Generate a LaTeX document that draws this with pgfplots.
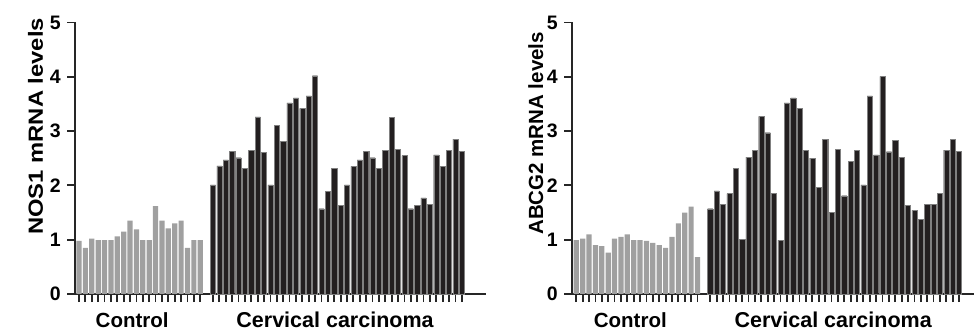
\documentclass[border=0pt]{standalone}
\usepackage{fontspec}
\setmainfont{Liberation Sans}
\usepackage{pgfplots}
\pgfplotsset{compat=1.18}
\usetikzlibrary{calc}
\definecolor{ctrl}{HTML}{A0A0A0}
\definecolor{canc}{HTML}{231F20}
\pgfplotstableread{
x y
1 0.98
2 0.85
3 1.02
4 0.99
5 0.99
6 0.99
7 1.06
8 1.15
9 1.35
10 1.19
11 0.99
12 0.99
13 1.62
14 1.35
15 1.21
16 1.30
17 1.35
18 0.85
19 0.99
20 0.99
}\nosctrl
\pgfplotstableread{
x y
22 2.01
23 2.36
24 2.47
25 2.63
26 2.51
27 2.32
28 2.65
29 3.26
30 2.61
31 2.01
32 3.10
33 2.81
34 3.52
35 3.61
36 3.42
37 3.65
38 4.02
39 1.57
40 1.89
41 2.31
42 1.63
43 2.01
44 2.35
45 2.47
46 2.63
47 2.51
48 2.32
49 2.65
50 3.25
51 2.67
52 2.55
53 1.57
54 1.63
55 1.77
56 1.65
57 2.56
58 2.35
59 2.65
60 2.85
61 2.63
}\noscanc
\pgfplotstableread{
x y
1 0.99
2 1.02
3 1.10
4 0.90
5 0.88
6 0.76
7 1.02
8 1.05
9 1.10
10 0.99
11 0.99
12 0.98
13 0.94
14 0.90
15 0.85
16 1.05
17 1.30
18 1.50
19 1.61
20 0.68
}\abcctrl
\pgfplotstableread{
x y
22 1.57
23 1.90
24 1.65
25 1.85
26 2.32
27 1.00
28 2.52
29 2.64
30 3.27
31 2.97
32 1.86
33 0.99
34 3.52
35 3.61
36 3.42
37 2.64
38 2.50
39 1.97
40 2.85
41 1.51
42 2.67
43 1.81
44 2.44
45 2.64
46 2.01
47 3.65
48 2.56
49 4.01
50 2.62
51 2.83
52 2.52
53 1.63
54 1.54
55 1.37
56 1.65
57 1.65
58 1.85
59 2.65
60 2.85
61 2.63
}\abccanc
\pgfplotsset{
  mystyle/.style={
    scale only axis, x=6.38pt, y=54.3pt, ymin=0, ymax=5,
    axis lines=left, axis line style={-, line width=2.2pt, black!85},
    ytick={0,1,2,3,4,5}, tick align=outside, major tick length=8pt,
    every tick/.style={line width=1.8pt, black!85},
    xtick={1,...,20,22,23,...,61}, xticklabels={},
    yticklabel style={font=\fontsize{19.5}{20}\selectfont\bfseries, inner sep=0pt, xshift=-6pt},
    /pgf/number format/assume math mode=true,
    clip=false,
  },
  ctrlbar/.style={ybar, bar width=5.2pt, bar shift=0pt, fill=ctrl, draw=none},
  cancbar/.style={ybar, bar width=5.2pt, bar shift=0pt, fill=canc, draw=black!50, line width=0.4pt},
}
\begin{document}
\begin{tikzpicture}
\useasboundingbox (0,0) rectangle (974pt,332pt);
\begin{axis}[mystyle, xmin=0.37, xmax=64.79, anchor=south west, at={(75pt,38pt)}]
\addplot[ctrlbar] table {\nosctrl};
\addplot[cancbar] table {\noscanc};
\node[font=\fontsize{20.5}{21}\selectfont\bfseries, anchor=base] at ($(axis cs:9.7,0)+(0,-33pt)$) {Control};
\node[font=\fontsize{21.5}{22}\selectfont\bfseries, anchor=base] at ($(axis cs:41.5,0)+(0,-33pt)$) {Cervical carcinoma};
\node[font=\fontsize{20.5}{21}\selectfont\bfseries, rotate=90, anchor=base west, inner sep=0pt] at ($(rel axis cs:0,0)+(-32pt,59pt)$) {\scalebox{1.16}[1]{NOS1 mRNA levels}};
\end{axis}
\begin{axis}[mystyle, xmin=0.33, xmax=63.6, anchor=south west, at={(572pt,38pt)}]
\addplot[ctrlbar] table {\abcctrl};
\addplot[cancbar] table {\abccanc};
\node[font=\fontsize{20.5}{21}\selectfont\bfseries, anchor=base] at ($(axis cs:9.8,0)+(0,-33pt)$) {Control};
\node[font=\fontsize{21.5}{22}\selectfont\bfseries, anchor=base] at ($(axis cs:41.6,0)+(0,-33pt)$) {Cervical carcinoma};
\node[font=\fontsize{20.5}{21}\selectfont\bfseries, rotate=90, anchor=base west, inner sep=0pt] at ($(rel axis cs:0,0)+(-29pt,59pt)$) {ABCG2 mRNA levels};
\end{axis}
\end{tikzpicture}
\end{document}
